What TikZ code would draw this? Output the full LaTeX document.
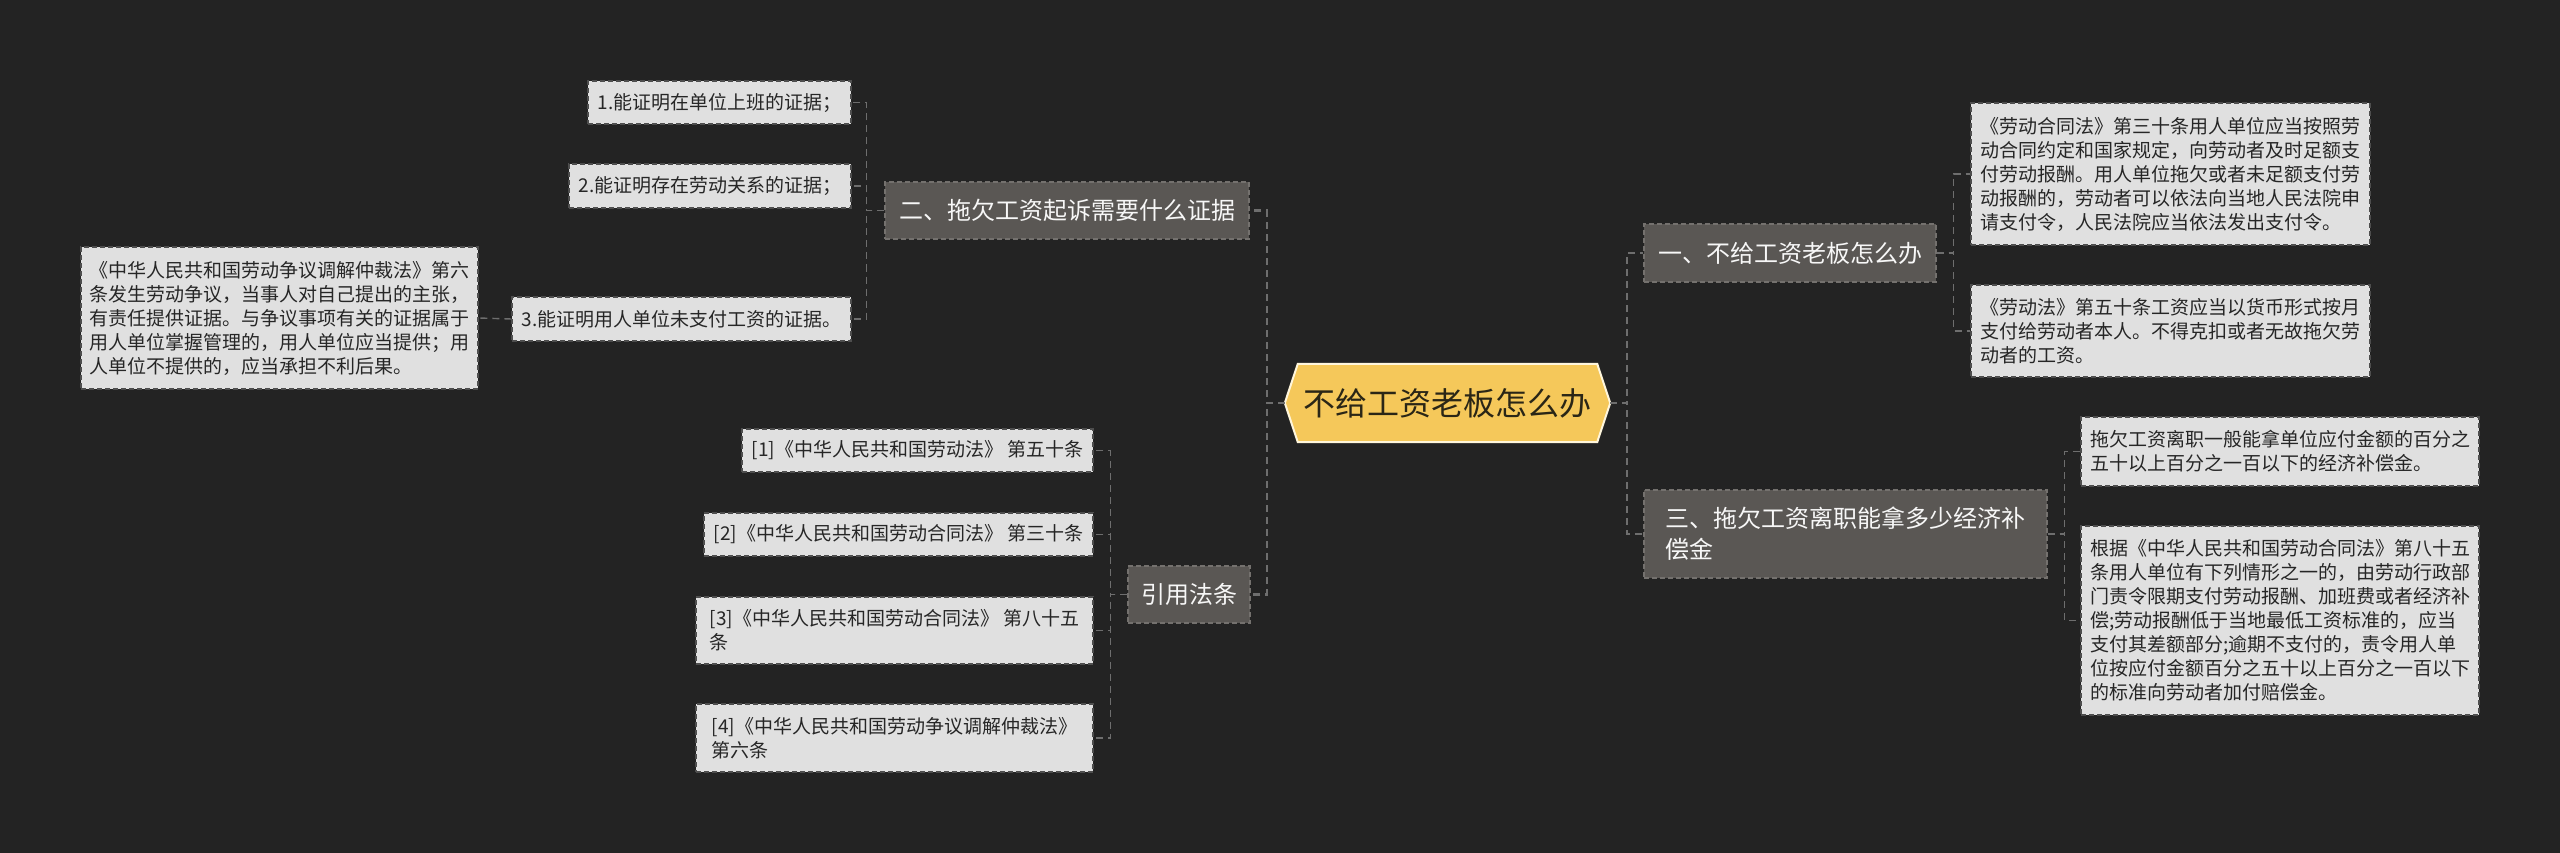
\documentclass[tikz,border=0pt]{standalone}
\usepackage{fontspec}
\setmainfont{Noto Sans CJK SC}
\usetikzlibrary{backgrounds}
\definecolor{bgc}{HTML}{232323}
\definecolor{leaffill}{HTML}{E0E0E0}
\definecolor{leafline}{HTML}{4E4E4E}
\definecolor{leaftext}{HTML}{262626}
\definecolor{brfill}{HTML}{5A5754}
\definecolor{brline}{HTML}{74716E}
\definecolor{brtext}{HTML}{F7F7F7}
\definecolor{hexfill}{HTML}{F5C85A}
\definecolor{hexline}{HTML}{FFF6DC}
\definecolor{hextext}{HTML}{2A2616}
\definecolor{connc}{HTML}{6E6E6E}
\begin{document}
\begin{tikzpicture}[x=1pt,y=-1pt,
  leaf/.style={draw=leafline, fill=leaffill, dash pattern=on 5pt off 3pt, line width=1.2pt, text=leaftext, font=\fontsize{19}{24}\selectfont, align=left, inner sep=2pt},
  branch/.style={draw=brline, fill=brfill, dash pattern=on 5pt off 3pt, line width=1.2pt, text=brtext, font=\fontsize{24}{31}\selectfont, align=left, inner sep=2pt},
  central/.style={text=hextext, font=\fontsize{32}{38}\selectfont, inner sep=0pt},
  hexshape/.style={fill=hexfill, draw=hexline, line width=2pt, line join=miter},
  connA/.style={draw=connc, line width=2.5pt, dash pattern=on 7pt off 5pt},
  connB/.style={draw=connc, line width=1.4pt, dash pattern=on 7pt off 5pt}
]
\useasboundingbox (0,0) rectangle (2560,853);

% central
\node[central, minimum width=325pt, minimum height=78pt] (c) at (1447.5,403) {不给工资老板怎么办};

% left branch 二
\node[branch, minimum width=364pt, minimum height=57pt] (b2) at (1067,210.5) {二、拖欠工资起诉需要什么证据};
\node[leaf, minimum width=263pt, minimum height=43pt] (l1) at (719.5,102.5) {1.能证明在单位上班的证据；};
\node[leaf, minimum width=282pt, minimum height=44pt] (l2) at (710,186) {2.能证明存在劳动关系的证据；};
\node[leaf, minimum width=339pt, minimum height=44pt] (l3) at (681.5,319) {3.能证明用人单位未支付工资的证据。};
\node[leaf, minimum width=397pt, minimum height=142pt] (l3a) at (279.5,318) {《中华人民共和国劳动争议调解仲裁法》第六\\条发生劳动争议，当事人对自己提出的主张，\\有责任提供证据。与争议事项有关的证据属于\\用人单位掌握管理的，用人单位应当提供；用\\人单位不提供的，应当承担不利后果。};

% left branch 引用法条
\node[branch, minimum width=122pt, minimum height=57pt] (ref) at (1189,594.5) {引用法条};
\node[leaf, minimum width=351pt, minimum height=43pt] (r1) at (917.5,450.5) {[1]《中华人民共和国劳动法》 第五十条};
\node[leaf, minimum width=389pt, minimum height=43pt] (r2) at (898.5,534.5) {[2]《中华人民共和国劳动合同法》 第三十条};
\node[leaf, minimum width=397pt, minimum height=67pt] (r3) at (894.5,630.5) {[3]《中华人民共和国劳动合同法》 第八十五\\条};
\node[leaf, minimum width=397pt, minimum height=68pt] (r4) at (894.5,738) {[4]《中华人民共和国劳动争议调解仲裁法》\\第六条};

% right branch 一
\node[branch, minimum width=292pt, minimum height=58pt] (b1) at (1790,253) {一、不给工资老板怎么办};
\node[leaf, minimum width=399pt, minimum height=142pt] (ra) at (2170.5,174) {《劳动合同法》第三十条用人单位应当按照劳\\动合同约定和国家规定，向劳动者及时足额支\\付劳动报酬。用人单位拖欠或者未足额支付劳\\动报酬的，劳动者可以依法向当地人民法院申\\请支付令，人民法院应当依法发出支付令。};
\node[leaf, minimum width=399pt, minimum height=92pt] (rb) at (2170.5,331) {《劳动法》第五十条工资应当以货币形式按月\\支付给劳动者本人。不得克扣或者无故拖欠劳\\动者的工资。};

% right branch 三
\node[branch, minimum width=403pt, minimum height=88pt] (b3) at (1845.5,534) {三、拖欠工资离职能拿多少经济补\\偿金};
\node[leaf, minimum width=398pt, minimum height=69pt] (rc) at (2280,451.5) {拖欠工资离职一般能拿单位应付金额的百分之\\五十以上百分之一百以下的经济补偿金。};
\node[leaf, minimum width=398pt, minimum height=189pt] (rd) at (2280,620.5) {根据《中华人民共和国劳动合同法》第八十五\\条用人单位有下列情形之一的，由劳动行政部\\门责令限期支付劳动报酬、加班费或者经济补\\偿;劳动报酬低于当地最低工资标准的，应当\\支付其差额部分;逾期不支付的，责令用人单\\位按应付金额百分之五十以上百分之一百以下\\的标准向劳动者加付赔偿金。};

% background and hexagon
\begin{scope}[on background layer]
\fill[bgc] (0,0) rectangle (2560,853);
\filldraw[hexshape] ([xshift=13pt]c.north west) -- ([xshift=-13pt]c.north east) -- (c.east) -- ([xshift=-13pt]c.south east) -- ([xshift=13pt]c.south west) -- (c.west) -- cycle;
\end{scope}

% connectors central -> branches
\draw[connA] (c.west) -- ++(-18,0) |- (b2.east);
\draw[connA] (c.west) -- ++(-18,0) |- (ref.east);
\draw[connA] (c.east) -- ++(17,0) |- (b1.west);
\draw[connA] (c.east) -- ++(17,0) |- (b3.west);

% branch -> leaves
\foreach \t in {l1,l2,l3} \draw[connB] (b2.west) -- ++(-18,0) |- (\t.east);
\draw[connB] (l3.west) -- (l3a.east);
\foreach \t in {r1,r2,r3,r4} \draw[connB] (ref.west) -- ++(-17,0) |- (\t.east);
\foreach \t in {ra,rb} \draw[connB] (b1.east) -- ++(17,0) |- (\t.west);
\foreach \t in {rc,rd} \draw[connB] (b3.east) -- ++(17,0) |- (\t.west);
\end{tikzpicture}
\end{document}
